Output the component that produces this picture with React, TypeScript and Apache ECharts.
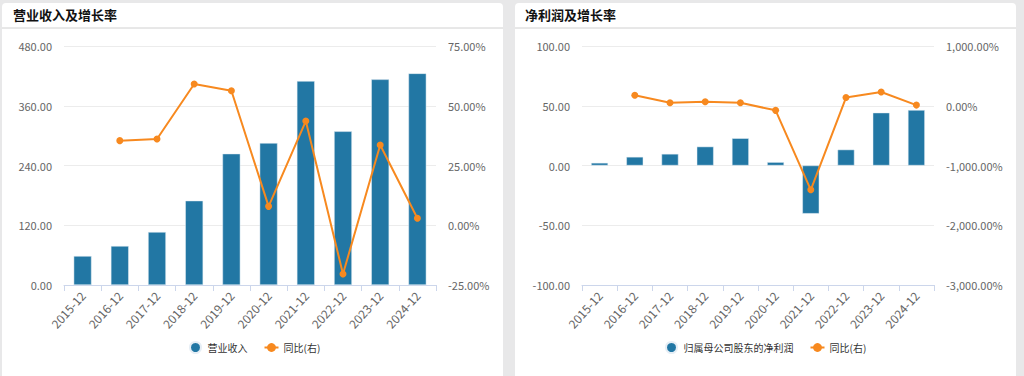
import React, { useEffect, useRef } from "react";
import * as echarts from "echarts";

const categories = ["2015-12", "2016-12", "2017-12", "2018-12", "2019-12", "2020-12", "2021-12", "2022-12", "2023-12", "2024-12"];
const revenue = [58.2, 78.3, 106.4, 169.3, 263.7, 285.1, 409.6, 308.6, 413.0, 425.0];
const revenueYoY = [null, 35.4, 36.1, 59.1, 56.3, 7.9, 43.6, -20.4, 33.6, 2.9];
const netProfit = [2.2, 7.2, 9.7, 15.8, 22.8, 2.8, -40.3, 13.3, 44.2, 46.4];
const netProfitYoY = [null, 176, 49, 66, 49, -77, -1407, 137, 231, 11];

const leftTitle = "营业收入及增长率";
const rightTitle = "净利润及增长率";
const revenueName = "营业收入";
const profitName = "归属母公司股东的净利润";
const yoyName = "同比(右)";

const BLUE = "#2277a4";
const ORANGE = "#f7891f";
const FONT = "'Noto Sans CJK SC', 'Noto Sans', sans-serif";

const fmtNum = (v: number) =>
  v.toLocaleString("en-US", { minimumFractionDigits: 2, maximumFractionDigits: 2 });
const fmtPct = (v: number) => fmtNum(v) + "%";

export default function App() {
  const ref = useRef<HTMLDivElement>(null);
  useEffect(() => {
    if (!ref.current) return;
    const chart = echarts.init(ref.current, null, { renderer: "svg" });
    const axisLabel = { color: "#666", fontSize: 11, fontFamily: FONT };
    const xAxisCommon = (gridIndex: number) => ({
      type: "category" as const,
      gridIndex,
      data: categories,
      axisLine: { onZero: false, lineStyle: { color: "#ccd6eb" } },
      axisTick: { show: true, length: 6, lineStyle: { color: "#ccd6eb" } },
      axisLabel: { ...axisLabel, fontSize: 12, rotate: 48, interval: 0, margin: 8 },
    });
    const yAxisCommon = (gridIndex: number, min: number, max: number, interval: number, pos: "left" | "right", fmt: (v: number) => string, split: boolean) => ({
      type: "value" as const,
      gridIndex,
      min,
      max,
      interval,
      position: pos,
      axisLine: { show: false },
      axisTick: { show: false },
      splitLine: { show: split, lineStyle: { color: "#ececec" } },
      axisLabel: { ...axisLabel, margin: 12, formatter: fmt },
    });
    const legendText = { color: "#333", fontSize: 10, fontFamily: FONT };
    chart.setOption({
      animation: false,
      textStyle: { fontFamily: FONT },
      title: [
        { text: leftTitle, left: 8, top: 3, textStyle: { fontSize: 13, fontWeight: "bold", color: "#111", fontFamily: FONT } },
        { text: rightTitle, left: 520, top: 3, textStyle: { fontSize: 13, fontWeight: "bold", color: "#111", fontFamily: FONT } },
      ],
      graphic: [
        { type: "line", shape: { x1: 2, y1: 28, x2: 503, y2: 28 }, style: { stroke: "#d0d0d0", lineWidth: 1 } },
        { type: "line", shape: { x1: 515, y1: 28, x2: 1016, y2: 28 }, style: { stroke: "#d0d0d0", lineWidth: 1 } },
      ],
      grid: [
        { left: 64, top: 46, width: 372, height: 239 },
        { left: 582, top: 46, width: 352, height: 239 },
      ],
      legend: [
        {
          data: [{ name: revenueName, icon: "circle" }, { name: yoyName + " " }],
          left: 184, top: 336, itemWidth: 14, itemHeight: 11, itemGap: 16,
          textStyle: legendText,
        },
        {
          data: [{ name: profitName, icon: "circle" }, { name: yoyName }],
          left: 660, top: 336, itemWidth: 14, itemHeight: 11, itemGap: 16,
          textStyle: legendText,
        },
      ],
      xAxis: [xAxisCommon(0), xAxisCommon(1)],
      yAxis: [
        yAxisCommon(0, 0, 480, 120, "left", fmtNum, true),
        yAxisCommon(0, -25, 75, 25, "right", fmtPct, false),
        yAxisCommon(1, -100, 100, 50, "left", fmtNum, true),
        yAxisCommon(1, -3000, 1000, 1000, "right", fmtPct, false),
      ],
      series: [
        {
          name: revenueName, type: "bar", xAxisIndex: 0, yAxisIndex: 0, data: revenue,
          barWidth: "48%", itemStyle: { color: BLUE, borderColor: "#e6eef5", borderWidth: 0.5 },
        },
        {
          name: yoyName + " ", type: "line", xAxisIndex: 0, yAxisIndex: 1, data: revenueYoY,
          symbol: "circle", symbolSize: 7, lineStyle: { color: ORANGE, width: 2 }, itemStyle: { color: ORANGE },
        },
        {
          name: profitName, type: "bar", xAxisIndex: 1, yAxisIndex: 2, data: netProfit,
          barWidth: "48%", itemStyle: { color: BLUE, borderColor: "#e6eef5", borderWidth: 0.5 },
        },
        {
          name: yoyName, type: "line", xAxisIndex: 1, yAxisIndex: 3, data: netProfitYoY,
          symbol: "circle", symbolSize: 7, lineStyle: { color: ORANGE, width: 2 }, itemStyle: { color: ORANGE },
        },
      ],
    });
    return () => chart.dispose();
  }, []);

  const panel = (left: number): React.CSSProperties => ({
    position: "absolute", left, top: 3, width: 501, height: 390, background: "#fff", borderRadius: 4,
  });

  return (
    <div style={{ position: "absolute", left: 0, top: 0, width: 1024, height: 376, background: "#e8e8e9", overflow: "hidden" }}>
      <div style={panel(2)} />
      <div style={panel(515)} />
      <div ref={ref} style={{ position: "absolute", left: 0, top: 0, width: 1024, height: 376 }} />
    </div>
  );
}
